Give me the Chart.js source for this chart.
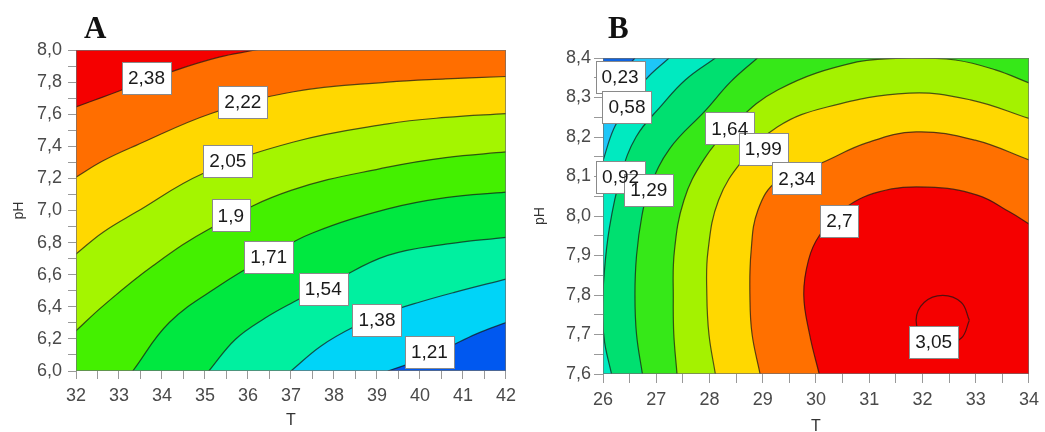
<!DOCTYPE html>
<html>
<head>
<meta charset="utf-8">
<title>Contour plots A / B</title>
<script src="https://cdn.jsdelivr.net/npm/chart.js@4.4.1/dist/chart.umd.min.js"></script>
<style>
  html, body { margin: 0; padding: 0; background: #fff; }
  #wrap { position: relative; width: 1045px; height: 432px; overflow: hidden; }
  .panel { position: absolute; top: 0; height: 432px; }
  #panelA { left: 0; width: 522px; }
  #panelB { left: 522px; width: 523px; }
</style>
</head>
<body>
<div id="wrap">
  <div class="panel" id="panelA"><canvas id="chartA"></canvas></div>
  <div class="panel" id="panelB"><canvas id="chartB"></canvas></div>
</div>
<script>
// ---- Panel A : T 32-42, pH 6.0-8.0 ----
const xTicksA = [32, 33, 34, 35, 36, 37, 38, 39, 40, 41, 42];
const yTicksA = [6.0, 6.2, 6.4, 6.6, 6.8, 7.0, 7.2, 7.4, 7.6, 7.8, 8.0];
const levelsA = [1.21, 1.38, 1.54, 1.71, 1.9, 2.05, 2.22, 2.38];
// contour lines, one row per level (T values / pH values)
const contourTA = [
  [39.25, 39.9, 40.6, 41.3, 42],
  [37.0, 37.7, 38.5, 39.25, 40.0, 40.8, 42],
  [35.09, 35.71, 36.4, 37.06, 38.0, 39.25, 40.6, 42],
  [33.32, 34.17, 35.33, 36.5, 37.5, 39.25, 40.6, 42],
  [32, 32.63, 33.79, 35.17, 37.0, 39.25, 40.6, 42],
  [32, 32.63, 33.4, 34.94, 37.06, 39.25, 40.6, 42],
  [32, 32.63, 33.4, 35.16, 37.06, 39.25, 40.6, 42],
  [32, 32.62, 34.33, 35.33, 36.17, 37.0]
];
const contourPHA = [
  [6.0, 6.06, 6.14, 6.23, 6.302],
  [6.0, 6.156, 6.28, 6.365, 6.43, 6.49, 6.573],
  [6.0, 6.198, 6.33, 6.43, 6.56, 6.72, 6.79, 6.833],
  [6.0, 6.302, 6.531, 6.72, 6.86, 7.01, 7.08, 7.115],
  [6.25, 6.406, 6.656, 6.896, 7.125, 7.27, 7.33, 7.365],
  [6.729, 6.865, 6.99, 7.229, 7.427, 7.54, 7.58, 7.604],
  [7.208, 7.31, 7.406, 7.606, 7.74, 7.80, 7.82, 7.835],
  [7.646, 7.706, 7.875, 7.956, 8.0, 8.05]
];
const labelTA = [40.22, 39.0, 37.75, 36.48, 35.6, 35.53, 35.88, 33.64];
const labelPHA = [6.12, 6.32, 6.51, 6.71, 6.97, 7.31, 7.675, 7.825];

// ---- Panel B : T 26-34, pH 7.6-8.4 ----
const xTicksB = [26, 27, 28, 29, 30, 31, 32, 33, 34];
const yTicksB = [7.6, 7.7, 7.8, 7.9, 8.0, 8.1, 8.2, 8.3, 8.4];
const levelsB = [0.23, 0.58, 0.92, 1.29, 1.64, 1.99, 2.34, 2.7, 3.05];
const contourTB = [
  [26.0, 26.3, 26.6],
  [26.0, 26.2, 26.45, 26.8, 27.24],
  [26.16, 26.03, 25.99, 26.02, 26.12, 26.33, 26.62, 27.1, 27.55, 28.11],
  [26.74, 26.63, 26.6, 26.63, 26.73, 26.86, 27.25, 27.93, 28.4, 28.9],
  [27.39, 27.33, 27.32, 27.34, 27.52, 27.89, 28.39, 29.28, 30.77, 31.8, 32.62, 33.37, 34],
  [28.11, 27.99, 27.95, 27.97, 28.17, 28.63, 29.28, 30.21, 31.75, 32.9, 34],
  [28.95, 28.8, 28.76, 28.78, 28.91, 29.28, 30.08, 30.95, 31.88, 32.99, 34],
  [30.06, 29.88, 29.77, 29.86, 30.06, 30.49, 31.18, 32.1, 33.03, 33.64, 34],
  [32.88, 32.73, 32.38, 32.03, 31.88, 32.03, 32.38, 32.73, 32.88]
];
const contourPHB = [
  [8.31, 8.355, 8.4],
  [8.14, 8.22, 8.276, 8.345, 8.4],
  [7.6, 7.68, 7.75, 7.85, 7.97, 8.1, 8.2, 8.28, 8.345, 8.4],
  [7.6, 7.7, 7.8, 7.9, 8.0, 8.067, 8.17, 8.268, 8.34, 8.4],
  [7.6, 7.7, 7.787, 7.91, 8.04, 8.142, 8.223, 8.319, 8.39, 8.40, 8.395, 8.37, 8.337],
  [7.6, 7.7, 7.8, 7.909, 8.04, 8.142, 8.226, 8.276, 8.311, 8.294, 8.247],
  [7.6, 7.7, 7.787, 7.909, 8.015, 8.09, 8.133, 8.185, 8.213, 8.192, 8.142],
  [7.6, 7.7, 7.8, 7.889, 7.95, 8.015, 8.061, 8.073, 8.053, 8.01, 7.98],
  [7.736, 7.781, 7.799, 7.781, 7.736, 7.691, 7.673, 7.691, 7.736]
];
const labelTB = [26.32, 26.45, 26.33, 26.86, 28.38, 29.01, 29.64, 30.44, 32.21];
const labelPHB = [8.352, 8.276, 8.10, 8.067, 8.222, 8.17, 8.095, 7.987, 7.682];

// band colours, lowest band first
const bandColorsA = ['#0058F0', '#00D4F8', '#00F0A0', '#00E840', '#44F000', '#A4F500', '#FFD800', '#FF6E00', '#F50000'];
const bandColorsB = ['#1064E0', '#1EC6F8', '#00EAC0', '#00E070', '#36E818', '#A4F200', '#FFD800', '#FF7000', '#F50000', '#F50000'];

const FONT = '"Liberation Sans", Arial, sans-serif';

const fmtLevel = v => String(v).replace('.', ',');
const isMajor = (list, v) => list.some(m => Math.abs(m - v) < 1e-6);

// fills the bands between the contour lines, using each line's own path
const contourFill = {
  id: 'contourFill',
  beforeDatasetsDraw(chart, args, opts) {
    const { ctx, chartArea: a } = chart;
    const far = 400;
    ctx.save();
    ctx.beginPath();
    ctx.rect(a.left, a.top, a.right - a.left, a.bottom - a.top);
    ctx.clip();
    ctx.fillStyle = opts.colors[0];
    ctx.fillRect(a.left, a.top, a.right - a.left, a.bottom - a.top);
    chart.data.datasets.forEach((ds, i) => {
      const meta = chart.getDatasetMeta(i);
      const line = meta.dataset;
      const pts = meta.data;
      if (!line || !pts.length) return;
      line.updateControlPoints(a, 'x');
      const first = pts[0], last = pts[pts.length - 1];
      ctx.beginPath();
      line.path(ctx);
      if (!ds.loop) {
        if (opts.side === 'upperLeft') {
          ctx.lineTo(a.right + far, last.y);
          ctx.lineTo(a.right + far, a.top - far);
          ctx.lineTo(a.left - far, a.top - far);
          ctx.lineTo(a.left - far, first.y);
        } else {
          ctx.lineTo(a.right + far, last.y);
          ctx.lineTo(a.right + far, a.bottom + far);
          ctx.lineTo(first.x, a.bottom + far);
        }
      }
      ctx.closePath();
      ctx.fillStyle = opts.colors[i + 1];
      ctx.fill();
    });
    ctx.restore();
  }
};

// plot frame + boxed contour labels (boxes first, then text on top)
const contourLabels = {
  id: 'contourLabels',
  afterDatasetsDraw(chart, args, opts) {
    const { ctx, chartArea: a, scales: { x, y } } = chart;
    ctx.save();
    ctx.strokeStyle = 'rgba(110,110,110,0.7)';
    ctx.lineWidth = 1;
    ctx.strokeRect(a.left + 0.5, a.top + 0.5, a.right - a.left - 1, a.bottom - a.top - 1);

    ctx.font = `${opts.size}px ${FONT}`;
    ctx.textAlign = 'center';
    ctx.textBaseline = 'middle';
    const items = opts.texts.map((t, i) => ({
      t,
      px: x.getPixelForValue(opts.xs[i]),
      py: y.getPixelForValue(opts.ys[i])
    }));
    items.forEach(it => {
      const w = Math.round(ctx.measureText(it.t).width + 2 * opts.padX);
      const h = opts.boxH;
      const bx = Math.round(it.px - w / 2) + 0.5;
      const by = Math.round(it.py - h / 2) + 0.5;
      ctx.fillStyle = '#fff';
      ctx.fillRect(bx, by, w, h);
      ctx.strokeStyle = '#8a8a8a';
      ctx.strokeRect(bx, by, w, h);
    });
    ctx.fillStyle = '#1a1a1a';
    items.forEach(it => ctx.fillText(it.t, it.px, it.py + 1));
    ctx.restore();
  }
};

// bold panel letter above the plot
const panelLetter = {
  id: 'panelLetter',
  afterDraw(chart, args, opts) {
    const { ctx, chartArea: a } = chart;
    ctx.save();
    ctx.font = 'bold 31px "Liberation Serif", "Times New Roman", serif';
    ctx.fillStyle = '#111';
    ctx.textBaseline = 'alphabetic';
    ctx.fillText(opts.text, a.left + opts.dx, opts.baseline);
    ctx.restore();
  }
};

function makeDatasets(ts, phs, closedLast) {
  return ts.map((row, i) => ({
    data: row.map((t, j) => ({ x: t, y: phs[i][j] })),
    showLine: true,
    loop: closedLast && i === ts.length - 1,
    borderColor: 'rgba(20,20,20,0.7)',
    borderWidth: 1.2,
    tension: 0.4,
    pointRadius: 0,
    pointHoverRadius: 0,
    fill: false
  }));
}

function axis(cfg) {
  return {
    type: 'linear',
    min: cfg.min,
    max: cfg.max,
    afterFit: s => { if (cfg.width) s.width = cfg.width; if (cfg.height) s.height = cfg.height; },
    ticks: {
      stepSize: cfg.step,
      autoSkip: false,
      maxRotation: 0,
      padding: cfg.tickPad,
      color: '#4a4a4a',
      font: { family: FONT, size: 18 },
      callback: v => isMajor(cfg.majors, v) ? cfg.fmt(v) : ''
    },
    grid: { drawOnChartArea: false, drawTicks: true, tickLength: cfg.tickLen, tickColor: '#999', tickWidth: 1 },
    border: { display: false },
    title: {
      display: true,
      text: cfg.title,
      color: '#333',
      font: { family: FONT, size: cfg.titleSize },
      padding: cfg.titlePad
    }
  };
}

function buildChart(canvasId, c) {
  return new Chart(document.getElementById(canvasId), {
    type: 'scatter',
    data: { datasets: makeDatasets(c.ts, c.phs, c.closedLast) },
    plugins: [contourFill, contourLabels, panelLetter],
    options: {
      responsive: true,
      maintainAspectRatio: false,
      devicePixelRatio: 1,
      animation: false,
      events: [],
      layout: { padding: c.padding },
      plugins: {
        legend: { display: false },
        tooltip: { enabled: false },
        contourFill: { colors: c.colors, side: c.side },
        contourLabels: {
          texts: c.levels.map(fmtLevel),
          xs: c.labelT,
          ys: c.labelPH,
          size: 19,
          padX: 6,
          boxH: 32
        },
        panelLetter: { text: c.letter, dx: c.letterDx, baseline: 38 }
      },
      scales: { x: axis(c.x), y: axis(c.y) }
    }
  });
}

buildChart('chartA', {
  ts: contourTA, phs: contourPHA, closedLast: false,
  levels: levelsA, labelT: labelTA, labelPH: labelPHA,
  colors: bandColorsA, side: 'upperLeft',
  letter: 'A', letterDx: 8,
  padding: { left: 0, right: 13, top: 50, bottom: 2 },
  x: { min: 32, max: 42, step: 0.5, majors: xTicksA, fmt: v => String(v), height: 59,
       tickLen: 8, tickPad: 6, title: 'T', titleSize: 16, titlePad: { top: 0, bottom: 0 } },
  y: { min: 6.0, max: 8.0, step: 0.1, majors: yTicksA, fmt: v => v.toFixed(1).replace('.', ','), width: 76,
       tickLen: 8, tickPad: 6, title: 'pH', titleSize: 14, titlePad: { top: 11, bottom: 0 } }
});

buildChart('chartB', {
  ts: contourTB, phs: contourPHB, closedLast: true,
  levels: levelsB, labelT: labelTB, labelPH: labelPHB,
  colors: bandColorsB, side: 'lowerRight',
  letter: 'B', letterDx: 5,
  padding: { left: 0, right: 11, top: 58, bottom: 0 },
  x: { min: 26, max: 34, step: 0.5, majors: xTicksB, fmt: v => String(v), height: 58,
       tickLen: 9, tickPad: 6, title: 'T', titleSize: 16, titlePad: { top: 0, bottom: -4 } },
  y: { min: 7.6, max: 8.4, step: 0.05, majors: yTicksB, fmt: v => v.toFixed(1).replace('.', ','), width: 81,
       tickLen: 9, tickPad: 3, title: 'pH', titleSize: 14, titlePad: { top: 10, bottom: 0 } }
});
</script>
</body>
</html>
